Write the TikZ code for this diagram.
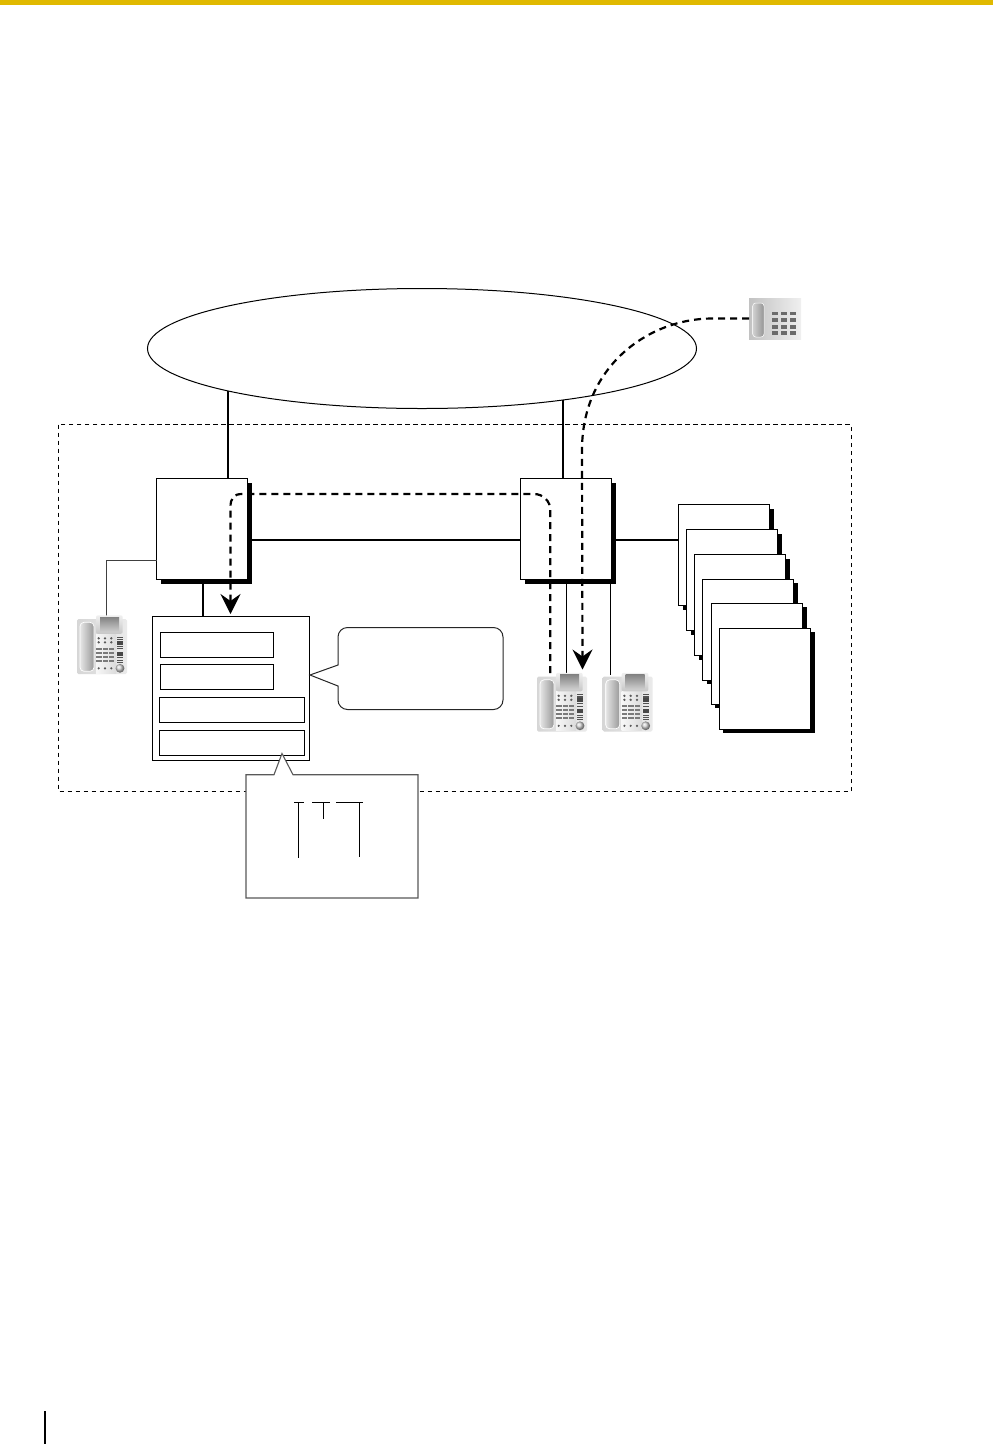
\documentclass[tikz,border=0pt]{standalone}
\usetikzlibrary{arrows.meta,calc,shapes.geometric}
\definecolor{gold}{HTML}{E0B900}
\tikzset{
  x=1pt,y=-1pt,
  box/.style={draw=black,fill=white,line width=1pt},
  shadowbox/.style={draw=black,fill=white,line width=1pt},
  link/.style={line width=2pt,draw=black},
  thin link/.style={line width=1pt,draw=black!75},
  route/.style={line width=2.2pt,dash pattern=on 7pt off 5pt,draw=black},
  tip/.style={-{Stealth[length=20pt,width=20pt,inset=7pt]}},
  callout/.style={draw=black!85,fill=white,line width=1pt,line join=miter}
}
% rectangle with drop shadow: name, x0, y0, x1, y1
\newcommand{\shadowrect}[5]{%
  \fill[black] (#2+4,#3+4) rectangle (#4+4,#5+4);
  \draw[shadowbox] (#2,#3) rectangle (#4,#5);
  \coordinate (#1) at ({(#2+#4)/2},{(#3+#5)/2});
}
% desk telephone, origin at the upper left corner (50 x 59)
\newcommand{\deskphone}[2]{%
  \begin{scope}[shift={(#1,#2)}]
    \shade[left color=black!16,right color=black!8,rounded corners=1.5pt] (0,3.7) rectangle (50,58.7);
    \shade[left color=black!3,right color=black!14] (19,19) rectangle (39,58);
    \shade[top color=black!6,bottom color=black!22,rounded corners=2pt] (19,0) rectangle (45.7,18.5);
    \shade[top color=black!48,bottom color=black!20] (23,2) rectangle (42,16);
    \shade[left color=black!10,right color=black!40,draw=white,rounded corners=4pt,line width=.7pt] (3,7) rectangle (17,56);
    \foreach \yy in {23,27} \foreach \xx in {21.7,28,34.3} \fill[black!65] (\xx,\yy) circle (1.3);
    \foreach \yy in {33.5,37.5,41.5,45.5} {
      \fill[black!52] (19,\yy-1) rectangle ++(5.7,2.1);
      \fill[black!52] (25.7,\yy-1) rectangle ++(5.3,2.1);
      \fill[black!52] (32,\yy-1) rectangle ++(5,2.1);
    }
    \foreach \yy in {22,24.2,31,33.5,42.5,44.8,47.1} \fill[black!68] (40,\yy-.55) rectangle ++(6,1.1);
    \fill[black!72] (40,25.5) rectangle ++(6,4);
    \fill[black!72] (40,36.5) rectangle ++(6,4);
    \foreach \xx in {21.7,28,34.3} \fill[black!65] (\xx,53) circle (1.2);
    \shade[ball color=black!18] (43,53) circle (4.4);
  \end{scope}
}
\begin{document}
\begin{tikzpicture}
\useasboundingbox (0,0) rectangle (993,1444);
\fill[white] (0,0) rectangle (993,1444);
\fill[gold] (0,0) rectangle (993,5);
\fill[black] (44,1411) rectangle (46,1444);

% dashed site boundary
\draw[black,line width=.8pt,dash pattern=on 4.5pt off 3.5pt] (58.5,424.5) rectangle (851,791.5);

% network ellipse
\node[ellipse,draw=black,fill=white,line width=1pt,minimum width=549pt,minimum height=120pt,inner sep=0pt,anchor=center] (net) at (422,348.5) {};

% links behind boxes
\coordinate (up1) at (228.3,391);
\coordinate (up2) at (563.2,400);
\coordinate (b1top) at (228.3,478);
\coordinate (b2top) at (563.2,478);
\draw[link] (up1) -- (b1top);
\draw[link] (up2) -- (b2top);

% PBX boxes
\shadowrect{pbxa}{156.5}{478.5}{247.5}{579.5}
\shadowrect{pbxb}{520.5}{478.5}{611.7}{579.5}

% stacked boxes
\shadowrect{s1}{678.5}{504.5}{769.5}{605.5}
\shadowrect{s2}{686.5}{529.5}{777.7}{630.5}
\shadowrect{s3}{694.5}{554.5}{785.7}{655.5}
\shadowrect{s4}{702.5}{579.3}{793.7}{680.3}
\shadowrect{s5}{711.3}{603.3}{802.7}{704.3}
\shadowrect{s6}{719.3}{628.3}{810.7}{729.3}

% voice-mail card
\node[box,minimum width=157pt,minimum height=144.5pt,inner sep=0pt] (card) at (231,688.25) {};
\node[box,minimum width=113.2pt,minimum height=25pt,inner sep=0pt] (c1) at (217.1,645) {};
\node[box,minimum width=113.2pt,minimum height=25pt,inner sep=0pt] (c2) at (217.1,676.75) {};
\node[box,minimum width=145.2pt,minimum height=25pt,inner sep=0pt] (c3) at (232.1,710) {};
\node[box,minimum width=145.2pt,minimum height=25pt,inner sep=0pt] (c4) at (232.1,743) {};

% links
\draw[link] (251.5,540) -- (520.5,540);
\draw[link] (616,540) -- (678.5,540);
\draw[thin link] (156.5,560) -- (106,560) -- (106,617);
\draw[line width=1.9pt] (203.2,583.5) -- (203.2,616);
\draw[line width=1pt] (566.5,583.5) -- (566.5,675);
\draw[line width=1pt] (610.5,583.5) -- (610.5,675);

% phones
\deskphone{77}{615.3}
\deskphone{537}{672.8}
\deskphone{602.7}{672.8}

% system phone
\shade[left color=black!24,right color=black!6] (749,298.3) rectangle (801,339);
\shade[left color=black!18,right color=black!42,draw=white,rounded corners=3pt,line width=.5pt] (752.7,303) rectangle (764,337);
\foreach \xx in {771.7,781,790} \foreach \yy in {313.3,320,326.7,333} \fill[black!58] (\xx,\yy-1.8) rectangle ++(6.3,3.6);

% callout right
\draw[callout] (310,675) -- (338,665) [rounded corners=9.5pt] -- (338,627.5) -- (503,627.5) -- (503,709.5) -- (338,709.5) [sharp corners] -- (338,686) -- cycle;

% callout bottom
\draw[callout,draw=black!65,line width=1.1pt] (246,774.7) -- (274,774.7) -- (282,753.5) -- (293,774.7) -- (418,774.7) -- (418,898) -- (246,898) -- cycle;
\draw[black,line width=.8pt] (294,802.3) -- (304,802.3) (312,802.3) -- (330,802.3) (336,802.3) -- (362.7,802.3);
\draw[black,line width=.8pt] (298.5,802.3) -- (298.5,858) (323.5,802.3) -- (323.5,819) (359.5,802.3) -- (359.5,857);

% dashed routes
\coordinate (pa) at (550.3,673);
\coordinate (mail) at (230.5,614);
\coordinate (sys) at (749,318.5);
\coordinate (pb) at (582.5,669.5);
\draw[route,tip] (pa) -- (550.3,510) .. controls (550.3,501) and (543,494) .. (534,494) -- (242,494) .. controls (234,494) and (230.5,498) .. (230.5,507) -- (mail);
\draw[route,tip] (sys) -- (712,318.5) .. controls (650,318.5) and (582,365) .. (582,450) -- (pb);
\end{tikzpicture}
\end{document}
